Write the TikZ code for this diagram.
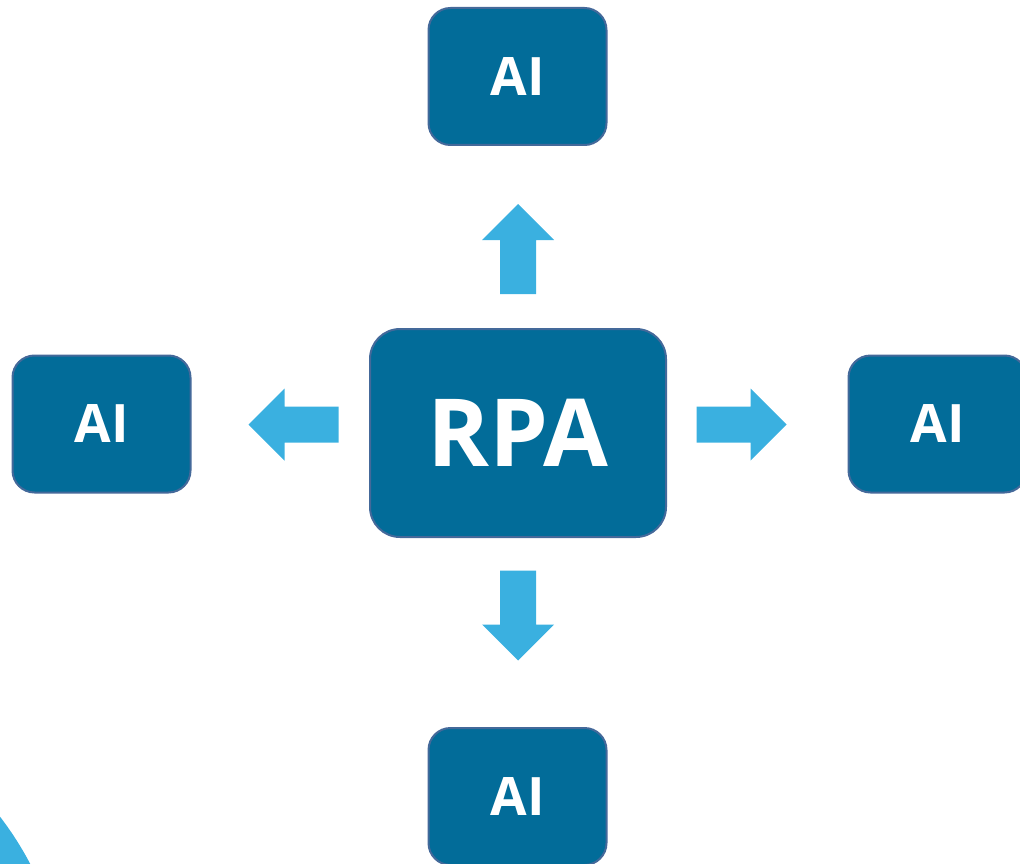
\documentclass[tikz,border=0pt]{standalone}
\usepackage{fontspec}
\setsansfont{Open Sans}
\usepackage{xcolor}
\usetikzlibrary{calc, positioning}
\definecolor{boxblue}{HTML}{026C99}
\definecolor{boxedge}{HTML}{44699A}
\definecolor{arrowblue}{HTML}{3AB0E0}
\tikzset{
  aibox/.style={draw=boxedge, line width=2pt, fill=boxblue, rounded corners=22pt,
    minimum width=178pt, minimum height=137pt, text=white, inner sep=0pt,
    font=\sffamily\bfseries\fontsize{53}{60}\selectfont},
  rpabox/.style={aibox, rounded corners=30pt, minimum width=296pt, minimum height=208pt,
    font=\sffamily\bfseries\fontsize{94}{100}\selectfont},
  pics/blockarrow/.style={code={% pointing along +x, centred
    \fill[arrowblue] (-45,-18) -- (9,-18) -- (9,-36) -- (45,0) -- (9,36) -- (9,18) -- (-45,18) -- cycle;
  }}
}

\begin{document}
\begin{tikzpicture}[x=1pt, y=-1pt]
  \useasboundingbox (0,0) rectangle (1020,864);
  \clip (0,0) rectangle (1020,864);
  % big circle in the corner
  \fill[arrowblue] (-257,1014) circle (324);
  % boxes
  \node[rpabox] (rpa) at (518,433) {RPA};
  \node[aibox] (aiN) at (517.5,76.5) {AI};
  \node[aibox] (aiW) at (101.5,424) {AI};
  \node[aibox] (aiE) at (937.5,424) {AI};
  \node[aibox] (aiS) at (517.5,796.5) {AI};
  % arrows between them
  \pic[rotate=90] at (518,249) {blockarrow};
  \pic[rotate=-90] at (518,615.5) {blockarrow};
  \pic[rotate=180] at (293.5,424.5) {blockarrow};
  \pic at (741.5,424.5) {blockarrow};
\end{tikzpicture}
\end{document}
